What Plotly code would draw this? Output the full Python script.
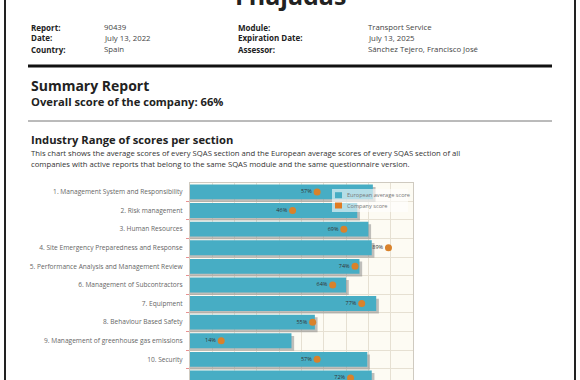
import plotly.graph_objects as go

sections = [
    "1. Management System and Responsibility",
    "2. Risk management",
    "3. Human Resources",
    "4. Site Emergency Preparedness and Response",
    "5. Performance Analysis and Management Review",
    "6. Management of Subcontractors",
    "7. Equipment",
    "8. Behaviour Based Safety",
    "9. Management of greenhouse gas emissions",
    "10. Security",
    "11. Control of operations",
]
european_avg = [82, 75, 80, 81.5, 76, 70, 83.5, 56, 45.5, 79.5, 81.5]
company_score = [57, 46, 69, 89, 74, 64, 77, 55, 14, 57, 72]
series_names = ["European average score", "Company score"]
series_colors = ["#47adc4", "#e07b22"]

W, H = 580, 380
PL, PR, PT, PB = 190, 413, 183, 380


def px(x):
    return (x - PL) / (PR - PL)


def py(y):
    return (PB - y) / (PB - PT)


FONT = "Open Sans"
pos = list(range(1, len(sections) + 1))
shadow_dx = 1.2
shadow_dy = 0.14

fig = go.Figure()
fig.add_trace(go.Bar(
    y=[p + shadow_dy for p in pos], x=[v + shadow_dx for v in european_avg],
    orientation="h", width=0.8, marker=dict(color="rgba(130,130,130,0.5)", line=dict(width=0)),
    showlegend=False, hoverinfo="skip"))
fig.add_trace(go.Bar(
    y=pos, x=european_avg, orientation="h", width=0.8, name=series_names[0],
    marker=dict(color=series_colors[0], line=dict(width=0)), showlegend=False))
fig.add_trace(go.Scatter(
    y=pos, x=company_score, mode="markers+text", name=series_names[1],
    text=[f"{v}%" for v in company_score], textposition="middle left",
    textfont=dict(family=FONT, size=5.5, color="#333"),
    marker=dict(color="#d9822b", size=7), showlegend=False, cliponaxis=False))

fig.update_layout(
    width=W, height=H, barmode="overlay",
    margin=dict(l=PL, r=W - PR, t=PT, b=0, pad=0),
    paper_bgcolor="white", plot_bgcolor="#fdfbf3",
    font=dict(family=FONT, color="#222"),
    showlegend=False,
    xaxis=dict(range=[0, 100], dtick=10, showticklabels=False, showgrid=True,
               gridcolor="#e6e0d2", gridwidth=1, zeroline=False,
               showline=True, mirror=True, linecolor="#cfcac0", linewidth=1),
    yaxis=dict(range=[11.11, 0.52], tickmode="array", tickvals=pos, ticktext=sections,
               showgrid=False, zeroline=False, ticks="outside", ticklen=5,
               tickcolor="rgba(0,0,0,0)",
               tickfont=dict(family=FONT, size=6.6, color="#666"),
               showline=True, mirror=True, linecolor="#cfcac0", linewidth=1,
               minor=dict(tickmode="linear", tick0=0.5, dtick=1, showgrid=True,
                          gridcolor="#e6e0d2", ticks="outside", ticklen=3,
                          tickcolor="#e89090")),
)

ann = []


def text(x, y, s, size, bold=False, color="#222", xanchor="left"):
    ann.append(dict(x=px(x), y=py(y), xref="paper", yref="paper", text=f"<b>{s}</b>" if bold else s,
                    showarrow=False, xanchor=xanchor, yanchor="middle",
                    font=dict(family=FONT, size=size, color=color)))


text(290, -5, "Fhajadas", 25, bold=True, xanchor="center")
rows = [27, 38, 49]
labels1 = ["Report:", "Date:", "Country:"]
values1 = ["90439", "July 13, 2022", "Spain"]
labels2 = ["Module:", "Expiration Date:", "Assessor:"]
values2 = ["Transport Service", "July 13, 2025", "Sánchez Tejero, Francisco José"]
for r, a, b, c, d in zip(rows, labels1, values1, labels2, values2):
    text(29, r, a, 8, bold=True)
    text(102, r, b, 7.8, color="#444")
    text(236, r, c, 8, bold=True)
    text(366, r, d, 7.8, color="#444")

text(29, 85, "Summary Report", 14, bold=True)
text(29, 101.5, "Overall score of the company: 66%", 11.2, bold=True)
text(29, 139, "Industry Range of scores per section", 11.2, bold=True)
text(29, 152.5, "This chart shows the average scores of every SQAS section and the European average scores of every SQAS section of all", 7.7, color="#333")
text(29, 163.5, "companies with active reports that belong to the same SQAS module and the same questionnaire version.", 7.7, color="#333")

# legend box (drawn inside the plot, top right)
shapes = [
    dict(type="rect", xref="paper", yref="paper", x0=px(332), x1=px(408), y0=py(212), y1=py(189),
         fillcolor="rgba(255,255,255,0.6)", line=dict(width=0), layer="above"),
]
for i, (nm, col) in enumerate(zip(series_names, series_colors)):
    yc = 195.2 + i * 10.3
    shapes.append(dict(type="rect", xref="paper", yref="paper", x0=px(335), x1=px(342),
                       y0=py(yc + 3), y1=py(yc - 3), fillcolor=col, line=dict(width=0), layer="above"))
    text(345, yc, nm, 5.6, color="#777")

shapes += [
    dict(type="line", xref="paper", yref="paper", x0=px(5), x1=px(5), y0=py(-5), y1=py(385),
         line=dict(color="#222", width=2)),
    dict(type="line", xref="paper", yref="paper", x0=px(575), x1=px(575), y0=py(-5), y1=py(385),
         line=dict(color="#222", width=2)),
    dict(type="line", xref="paper", yref="paper", x0=px(28), x1=px(552), y0=py(66), y1=py(66),
         line=dict(color="#111", width=3)),
    dict(type="line", xref="paper", yref="paper", x0=px(28), x1=px(552), y0=py(121), y1=py(121),
         line=dict(color="#777", width=1)),
]
fig.update_layout(shapes=shapes, annotations=ann)

fig.write_html("out.html", config={"displayModeBar": False},
               post_script="document.body.style.margin='0';document.body.style.overflow='hidden';")
